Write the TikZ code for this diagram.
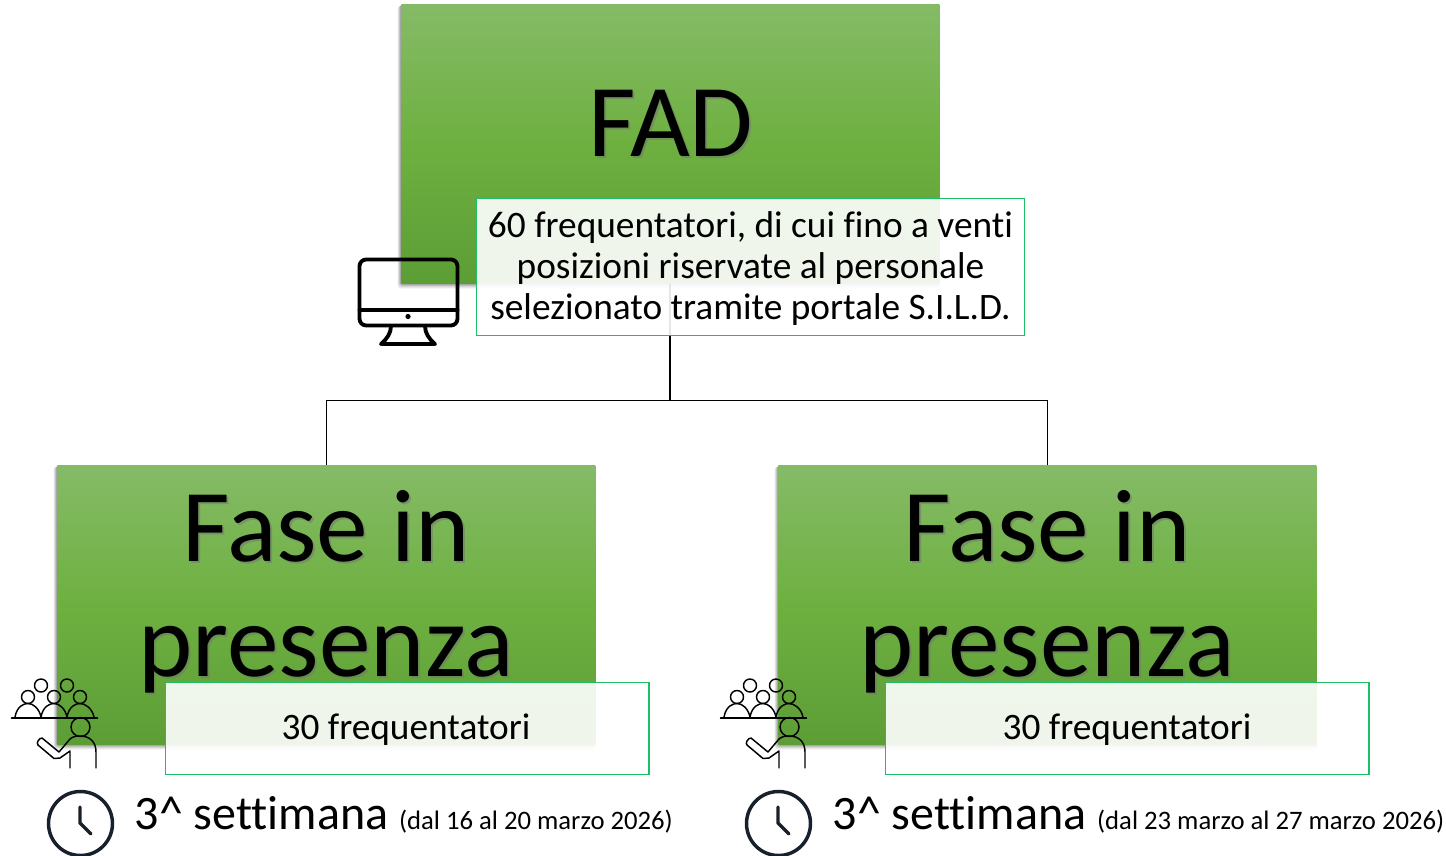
\documentclass[tikz,border=0pt]{standalone}
\usepackage{fontspec}
\setmainfont[Ligatures=NoCommon]{Carlito}
\usetikzlibrary{calc}
\definecolor{gA}{HTML}{85BB67}
\definecolor{gB}{HTML}{6EB040}
\definecolor{gC}{HTML}{5C9E36}
\definecolor{edgeg}{HTML}{1FBF66}
\definecolor{iconc}{HTML}{17202B}
\newcommand{\shadowed}[1]{%
 \foreach \o/\a in {5/.05,4/.07,3/.09,2/.11,1/.13}{
  \fill[black,opacity=\a,rounded corners=2pt] ($(#1.south west)+(-\o*.7,\o)$) rectangle ($(#1.north east)+(\o*.1,\o*.4)$);}
}
\newcommand{\bigtext}[3]{%
 \node[bigtxt,text=black!55,opacity=.5] at ($(#1)+(2,2)$) {#3};
 \node[bigtxt] (#2) at (#1) {#3};
}
\tikzset{
 x=0.75pt,y=-0.75pt,
 greenbox/.style={minimum width=403.5pt,minimum height=209.25pt,inner sep=0,anchor=north west,
   top color=gA,bottom color=gC,middle color=gB,shading angle=0},
 ghostbox/.style={minimum width=403.5pt,minimum height=209.25pt,inner sep=0,anchor=north west},
 bigtxt/.style={font=\fontsize{77.5}{86}\selectfont,align=center,inner sep=0,text=black},
 infobox/.style={draw=edgeg,line width=.95pt,fill=white,fill opacity=.9,anchor=north west,inner sep=0},
 conn/.style={draw=black,line width=.8pt},
 ic/.style={draw=black,line width=1.1pt,line cap=round,line join=round},
 icw/.style={draw=black,line width=2.9pt,line cap=round,line join=round},
 clockic/.style={draw=iconc,line width=2.6pt,line cap=round,line join=round},
 week/.style={anchor=base west,inner sep=0,font=\fontsize{36}{40}\selectfont,text=black},
}
\newcommand{\people}[2]{%
 \begin{scope}[shift={(#1,#2)}]
  \draw[ic] (41,685.5) circle (6.5) (67,685.5) circle (6.5);
  \draw[ic] (28,697) circle (6.5) (54,697) circle (6.5) (80,697) circle (6.5);
  \draw[ic] (15,717) .. controls (17,706) and (24,703.5) .. (28,703.5) .. controls (33,703.5) and (39,708) .. (41,717);
  \draw[ic] (41,717) .. controls (43,706) and (50,703.5) .. (54,703.5) .. controls (59,703.5) and (65,708) .. (67,717);
  \draw[ic] (67,717) .. controls (69,706) and (76,703.5) .. (80,703.5) .. controls (85,703.5) and (92,708) .. (94,717);
  \draw[ic] (11.5,718) -- (97.5,718);
  \draw[ic] (80.5,727) circle (9.5);
  \draw[ic] (70,739) .. controls (73,736.5) and (76,736) .. (80,736) .. controls (90,736) and (96,742) .. (96,752) -- (96,768);
  \draw[ic] (70,768) -- (70,751) -- (60,758) -- (54,758.5) -- (38,745) .. controls (36,743) and (39,738) .. (42,738) -- (59,752) -- (70,739);
 \end{scope}
}
\newcommand{\clockicon}[1]{%
 \begin{scope}[shift={(#1,0)}]
  \draw[clockic] (80.5,823.5) circle (32);
  \draw[clockic] (80,807) -- (80,823) -- (91,834);
 \end{scope}
}
\begin{document}
\begin{tikzpicture}
\useasboundingbox (0,0) rectangle (1446,856);
\coordinate (fadtl) at (401,4);
\coordinate (ltl) at (57,465);
\coordinate (rtl) at (778,465);
\node[ghostbox] (fad) at (fadtl) {};
\node[ghostbox] (left) at (ltl) {};
\node[ghostbox] (right) at (rtl) {};
\shadowed{fad}
\shadowed{left}
\shadowed{right}
% connectors
\coordinate (bus) at (670,400.5);
\draw[conn] (fad.south -| bus) -- (bus);
\draw[conn] (left.north) |- (bus);
\draw[conn] (right.north) |- (bus);
% boxes
\path (fadtl) node[greenbox] {};
\path (ltl) node[greenbox] {};
\path (rtl) node[greenbox] {};
\bigtext{671,123}{fadlabel}{FAD}
\bigtext{326,591.5}{llabel}{Fase in\\presenza}
\bigtext{1047,591.5}{rlabel}{Fase in\\presenza}
% info boxes
\node[infobox,minimum width=411pt,minimum height=102.5pt] (info) at (476,198) {};
\node[align=center,inner sep=0,font=\fontsize{28}{30.6}\selectfont] (infotext) at (750.5,268.5)
 {60 frequentatori, di cui fino a venti\\posizioni riservate al personale\\selezionato tramite portale S.I.L.D.};
\node[infobox,minimum width=362.5pt,minimum height=69pt] (lbox) at (165,682) {};
\node[infobox,minimum width=362.5pt,minimum height=69pt] (rbox) at (885,682) {};
\node[font=\fontsize{28}{30}\selectfont,inner sep=0] (lt) at (406,730) {30 frequentatori};
\node[font=\fontsize{28}{30}\selectfont,inner sep=0] (rt) at (1127,730) {30 frequentatori};
% monitor icon
\draw[icw,rounded corners=5pt] (359.5,259.5) rectangle (457.5,325.5);
\draw[icw] (359.5,310) -- (457.5,310);
\fill[black] (408,316.5) circle (2.6);
\draw[icw] (391,326) .. controls (391,333) and (387,339) .. (381,344) -- (435,344) .. controls (429,339) and (425,333) .. (425,326);
% people icons
\people{0}{0}
\people{709}{0}
% clocks
\clockicon{0}
\clockicon{698}
% week text
\node[week] (wl) at (134.5,829) {3\textasciicircum{} settimana \fontsize{20}{24}\selectfont(dal 16 al 20 marzo 2026)};
\node[week] (wr) at (832.5,829) {3\textasciicircum{} settimana \fontsize{20}{24}\selectfont(dal 23 marzo al 27 marzo 2026)};
\end{tikzpicture}
\end{document}
